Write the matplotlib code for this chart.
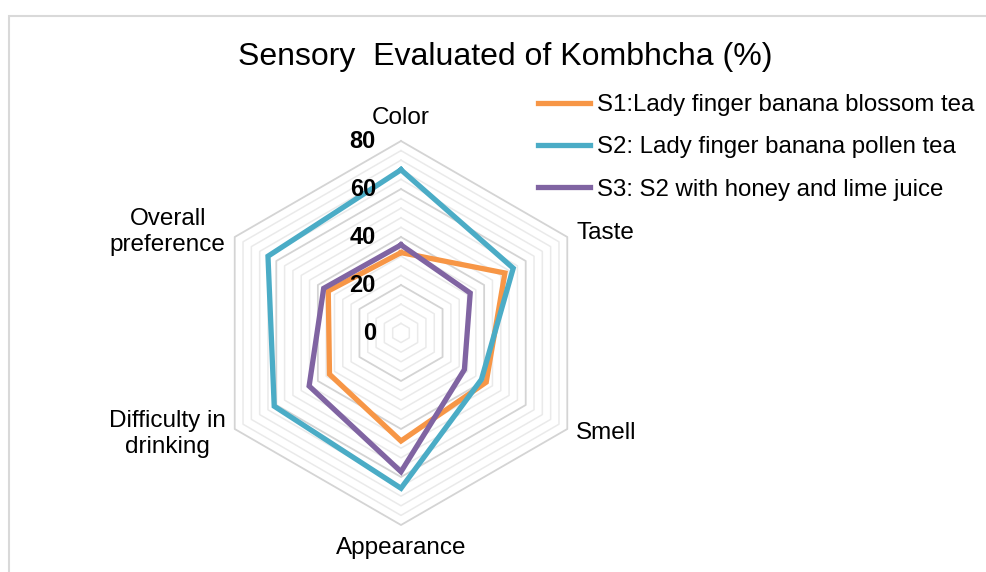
import numpy as np
import matplotlib.pyplot as plt
from matplotlib.transforms import offset_copy
from matplotlib.patches import Rectangle

plt.rcParams['font.family'] = ['Liberation Sans', 'DejaVu Sans']

categories = ["Color", "Taste", "Smell", "Appearance", "Difficulty in\ndrinking", "Overall\npreference"]
s1 = [33.5, 50, 41, 45, 34.4, 35]
s2 = [68, 54, 38.7, 64.7, 61, 64]
s3 = [36.7, 33.3, 30.5, 57.8, 44.2, 37.2]
series_names = ["S1:Lady finger banana blossom tea",
                "S2: Lady finger banana pollen tea",
                "S3: S2 with honey and lime juice"]
colors = ["#F79646", "#4BACC6", "#8064A2"]
ticks = [0, 20, 40, 60, 80]

n = len(categories)
angles = np.arange(n) * 2 * np.pi / n
closed = np.append(angles, angles[0])

W, H = 987, 572
fig = plt.figure(figsize=(W / 100, H / 100), dpi=100)

# outer chart frame
fig.patches.append(Rectangle((9 / W, -0.1), 1.2, (H - 16) / H + 0.1, transform=fig.transFigure,
                             fill=False, edgecolor="#D9D9D9", linewidth=1.5))

cx, cy, R = 401, 333, 192
ax = fig.add_axes([(cx - R) / W, (H - cy - R) / H, 2 * R / W, 2 * R / H], projection="polar")
ax.set_theta_offset(np.pi / 2)
ax.set_theta_direction(-1)
ax.set_ylim(0, 80)
ax.grid(False)
ax.spines["polar"].set_visible(False)
ax.set_xticks([])
ax.set_yticks([])
ax.patch.set_alpha(0)

# hexagonal grid
for lev in range(4, 81, 4):
    if lev % 20 == 0:
        ax.plot(closed, [lev] * (n + 1), color="#D4D4D4", lw=1.3, zorder=1, clip_on=False)
    else:
        ax.plot(closed, [lev] * (n + 1), color="#EAEAEA", lw=1.1, zorder=0.5, clip_on=False)

for vals, c, name in zip([s1, s2, s3], colors, series_names):
    ax.plot(closed, vals + vals[:1], color=c, lw=3.8, label=name, zorder=3,
            solid_joinstyle="miter", clip_on=False)

# radial tick labels
tr = offset_copy(ax.transData, fig=fig, x=-25, y=0, units="dots")
for t in ticks:
    ax.text(0, t, str(t), transform=tr, ha="right", va="center",
            fontsize=17, fontweight="bold")

# category labels
label_pos = [
    (0, 80, 0, 12, "center", "bottom"),
    (angles[1], 80, 9, 4, "left", "center"),
    (angles[2], 80, 9, -4, "left", "center"),
    (angles[3], 80, 0, -12, "center", "top"),
    (angles[4], 80, -9, -5, "right", "center"),
    (angles[5], 80, -9, 5, "right", "center"),
]
for lab, (th, r, dx, dy, ha, va) in zip(categories, label_pos):
    t2 = offset_copy(ax.transData, fig=fig, x=dx, y=dy, units="dots")
    ax.text(th, r, lab, transform=t2, ha=ha, va=va, fontsize=17.5,
            multialignment="center", linespacing=1.25)

fig.text(505 / W, 1 - 57 / H, "Sensory  Evaluated of Kombhcha (%)", ha="center", va="center",
         fontsize=23)

leg = fig.legend(loc="upper left", bbox_to_anchor=(538 / W, 1 - 94 / H), frameon=False,
                 fontsize=17.3, handlelength=2.15, handletextpad=0.3, labelspacing=0.85,
                 borderpad=0, borderaxespad=0)
for line in leg.get_lines():
    line.set_linewidth(3.8)

fig.savefig("out.png", dpi=100)
